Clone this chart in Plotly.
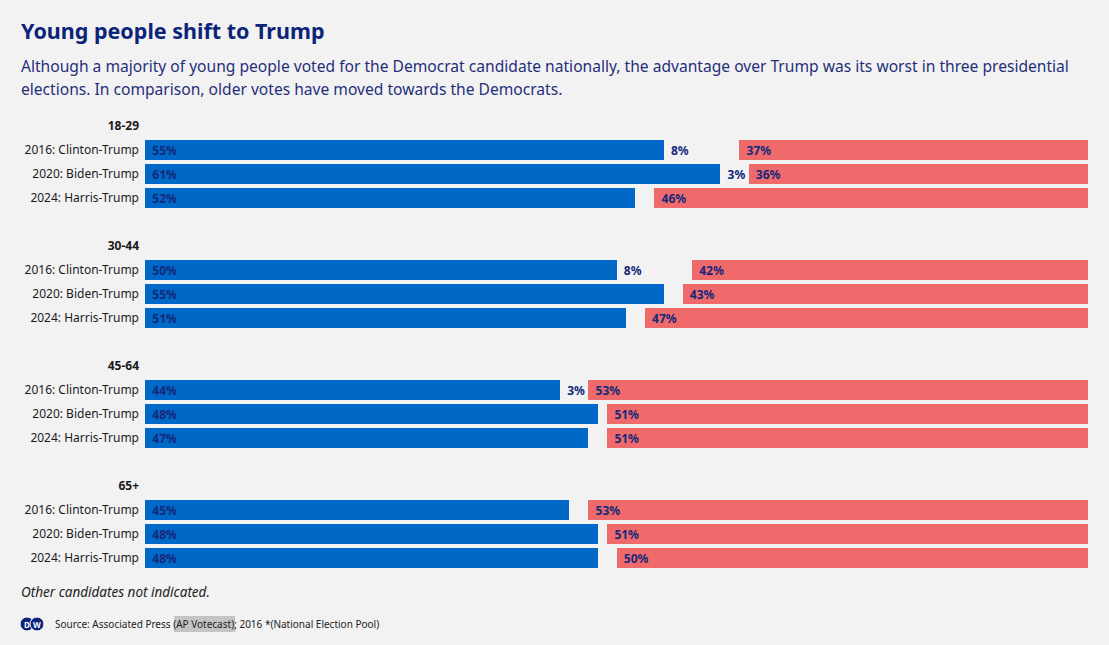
import plotly.graph_objects as go

groups = ["18-29", "30-44", "45-64", "65+"]
elections = ["2016: Clinton-Trump", "2020: Biden-Trump", "2024: Harris-Trump"]
dem = [55, 61, 52, 50, 55, 51, 44, 48, 47, 45, 48, 48]
other = [8, 3, 2, 8, 2, 2, 3, 1, 2, 2, 1, 2]
rep = [37, 36, 46, 42, 43, 47, 53, 51, 51, 53, 51, 50]

BLUE = "#0068c6"
RED = "#ef6b6b"
NAVY = "#14287a"
BG = "#f3f2f3"
FONT = "Noto Sans"
PAD = "\u00a0\u200a"

ys, tickvals, ticktext = [], [], []
for g, grp in enumerate(groups):
    tickvals.append(g * 5)
    ticktext.append(f"<b>{grp}</b>")
    for i, el in enumerate(elections):
        y = g * 5 + 1 + i
        ys.append(y)
        tickvals.append(y)
        ticktext.append(el)

fig = go.Figure()
common = dict(orientation="h", y=ys, width=0.82, textposition="inside",
              insidetextanchor="start", constraintext="none",
              textfont=dict(family=FONT, size=12, color=NAVY, weight="bold"),
              hoverinfo="skip")
fig.add_trace(go.Bar(x=dem, marker=dict(color=BLUE, line=dict(width=0)),
                     text=[f"{PAD}{v}%" for v in dem], **common))
fig.add_trace(go.Bar(x=other, marker=dict(color="rgba(0,0,0,0)", line=dict(width=0)),
                     text=[f"{PAD}{v}%" if v >= 3 else "" for v in other], **common))
fig.add_trace(go.Bar(x=rep, marker=dict(color=RED, line=dict(width=0)),
                     text=[f"{PAD}{v}%" for v in rep], **common))

fig.update_layout(
    width=1109, height=645, barmode="stack", showlegend=False,
    paper_bgcolor=BG, plot_bgcolor=BG,
    margin=dict(l=145, r=21, t=114, b=75),
    font=dict(family=FONT, color="#1a1a1a"),
    xaxis=dict(range=[0, 100], visible=False, fixedrange=True),
    yaxis=dict(range=[18.5, -0.5], tickvals=tickvals, ticktext=ticktext,
               showgrid=False, zeroline=False, showline=False, ticks="",
               ticklabelstandoff=5, fixedrange=True,
               tickfont=dict(family=FONT, size=12, color="#1a1a1a")),
)

anns = [
    dict(text="<b>Young people shift to Trump</b>", x=19, y=30, size=21.5, color="#0b2479"),
    dict(text="Although a majority of young people voted for the Democrat candidate nationally, the advantage over Trump was its worst in three presidential",
         x=19, y=66, size=15.6, color="#1f2f7a"),
    dict(text="elections. In comparison, older votes have moved towards the Democrats.",
         x=19, y=89, size=15.6, color="#1f2f7a"),
    dict(text="<i>Other candidates not indicated.</i>", x=19, y=592, size=13.5, color="#222222"),
    dict(text="Source: Associated Press (AP Votecast); 2016 *(National Election Pool)", x=53, y=624, size=10, color="#222222"),
]

def px2x(p):
    return (p - 145) / 943

def px2y(p):
    return 1 - (p - 114) / 456

for a in anns:
    fig.add_annotation(text=a["text"], xref="paper", yref="paper",
                       x=px2x(a["x"]), y=px2y(a["y"]),
                       xanchor="left", yanchor="middle", showarrow=False,
                       font=dict(size=a["size"], color=a["color"], family=FONT))

# highlight behind "AP Votecast"
fig.add_shape(type="rect", xref="paper", yref="paper", layer="below",
              x0=px2x(174), x1=px2x(235), y0=px2y(616), y1=px2y(632),
              fillcolor="#c4c4c4", line=dict(width=0))
# DW logo
for cx, letter in [(27, "D"), (37, "W")]:
    fig.add_shape(type="circle", xref="paper", yref="paper",
                  x0=px2x(cx - 7), x1=px2x(cx + 7), y0=px2y(631), y1=px2y(617),
                  fillcolor="#0b2479", line=dict(color="white", width=1))
    fig.add_annotation(text=f"<b>{letter}</b>", xref="paper", yref="paper",
                       x=px2x(cx), y=px2y(624), showarrow=False,
                       xanchor="center", yanchor="middle",
                       font=dict(size=8, color="white", family=FONT))

fig.write_html("out.html", config={"displayModeBar": False},
               post_script="document.body.style.margin='0';")
